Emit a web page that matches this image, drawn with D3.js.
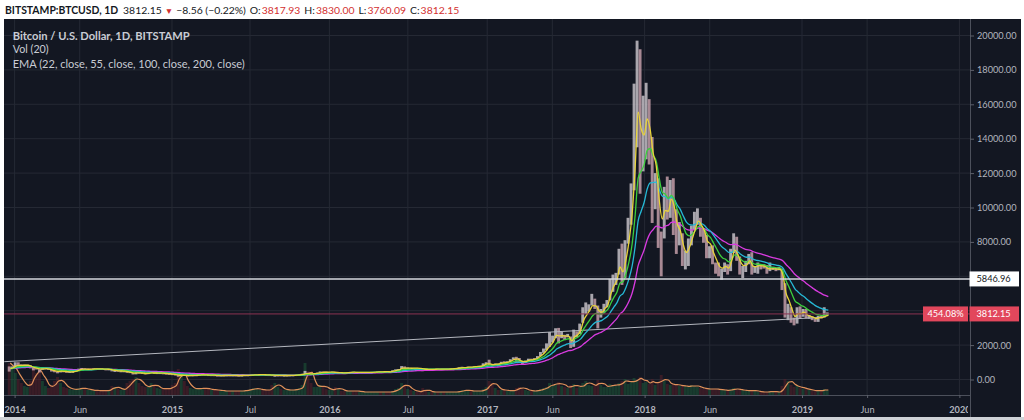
<!DOCTYPE html>
<html><head><meta charset="utf-8">
<script src="https://cdn.jsdelivr.net/npm/d3@7"></script>
<style>
html,body{margin:0;padding:0;background:#fff;}
svg{display:block;font-family:Lato,"Open Sans",sans-serif;}
</style></head><body>
<svg id="c" width="1024" height="420"></svg>
<script>
// ---------- DATA (weekly) ----------
const weekStart = "2013-12-16";
const firstOpen = 700;
const closes = [
// 2013
640,730,910,
// 2014
860,830,830,830, 680,620,600,560, 630,640,580,490,450, 430,500,460,440, 440,450,530,630, 650,595,595,600,635, 630,620,595,585, 585,500,510,480, 480,480,410,375,330, 400,390,355,325, 375,400,375,375, 375,350,330,320,275,
// 2015
270,200,250,230, 220,235,245,255, 275,285,260,250,255, 235,225,225,235, 240,237,240,230, 225,235,245,250,260, 280,280,290,280, 265,260,230,230,240, 230,230,235,240, 245,265,285,325, 385,335,320,360,390, 450,440,420,430,
// 2016
445,380,400,380, 375,405,440,435,400, 410,410,415,420, 420,430,455,450, 460,455,440,530,575, 610,760,660,660, 650,665,660,625, 590,570,585,575,610, 605,610,600,610, 615,640,655,700,705, 705,740,735,765, 775,785,890,1000,
// 2017
900,820,920,915,1020, 1000,1050,1160,1270, 1230,1000,960,1080, 1200,1170,1230,1350, 1560,1720,2050,2200,2500, 2950,2500,2550,2500, 2520,1930,2750,2740,3200, 4100,4100,4340,4580, 4270,3700,3800,4380, 4600,5700,5950,6150,7400, 5950,7800,9300,11300, 15300,19200,13500,13800,
// 2018
16200,13800,11600,11600,8200, 8100,10400,9700,11300, 9500,7900,8200,6900, 6900,8000,8800,9400,9700, 8700,8250,7350,7700, 6800,6500,6150,6350, 6700,6350,7400,8200,7000, 6300,6400,6700,7200, 6250,6500,6700,6600, 6550,6300,6400,6450,6400, 6400,5600,3900,4100, 3500,3200,4000,3850,4000,
// 2019
3600,3600,3550,3450,3650,3620,3750,3812.15
];
const highs = [
// 2013
760,760,1000,
// 2014
1000,880,870,860, 830,700,650,600, 690,660,630,590,500, 470,540,510,460, 450,460,530,630, 670,650,620,610,650, 640,630,625,600, 600,590,520,520, 490,490,480,440,390, 400,410,390,365, 380,460,400,385, 385,370,350,335,325,
// 2015
300,280,300,310, 240,265,255,260, 300,300,290,270,265, 260,235,240,245, 245,245,245,240, 230,240,255,255,270, 300,295,295,300, 285,270,265,230,245, 245,235,240,245, 250,270,290,335, 500,400,340,370,400, 470,465,460,440,
// 2016
460,450,420,400, 385,410,445,445,440, 420,420,420,425, 425,435,460,470, 465,465,460,535,590, 610,780,760,700, 680,675,675,660, 620,600,590,590,615, 630,615,610,615, 620,645,660,710,740, 720,750,745,770, 780,795,940,1000,
// 2017
1150,910,930,925,1030, 1060,1060,1180,1290, 1320,1250,1050,1100, 1210,1210,1240,1360, 1600,1800,2100,2760,2550, 2980,3000,2760,2600, 2650,2500,2900,2800,3250, 4200,4480,4370,4980, 4700,4300,4100,4400, 4620,5850,6100,6200,7600, 7900,8100,9400,11400, 17200,19700,19200,16500,
// 2018
17250,16300,14100,12000,11700, 8600,11200,11800,11600, 11700,9900,9150,8500, 7500,8200,8950,9750,9950, 9400,8800,8400,7750, 7800,6800,6800,6450, 6800,6700,7600,8500,8300, 7150,6600,6900,7300, 7400,6600,6800,6700, 6700,6650,6800,6550,6500, 6550,6450,5600,4400, 4200,3600,4200,4250,4100,
// 2019
4100,3750,3650,3550,3700,3700,4200,3900
];
const lows = [
// 2013
460,620,730,
// 2014
780,800,770,770, 650,530,580,410, 560,600,560,460,420, 360,410,420,420, 420,430,440,550, 620,560,560,560,600, 610,610,590,570, 570,470,440,470, 470,470,390,370,290, 300,370,350,320, 320,370,345,360, 360,340,310,310,260,
// 2015
260,160,200,210, 210,215,230,235, 260,270,250,235,240, 220,215,215,220, 230,230,232,225, 220,225,230,240,245, 260,270,270,275, 260,255,200,190,225, 225,225,225,235, 235,245,265,280, 320,300,315,320,360, 390,430,410,410,
// 2016
420,360,365,370, 365,370,400,400,370, 395,405,405,410, 415,420,430,440, 440,445,435,440,520, 570,610,520,610, 600,650,650,620, 480,565,565,565,570, 600,600,590,600, 605,615,630,650,680, 690,700,725,730, 750,765,790,890,
// 2017
840,750,820,880,915, 960,980,1050,1150, 950,980,900,960, 1060,1150,1170,1230, 1350,1550,1700,1900,2150, 2400,2100,2400,2300, 2450,1830,1900,2450,2650, 3300,3800,3950,4300, 4100,2970,3600,3850, 4200,4600,5100,5500,6100, 5500,5900,7900,9000, 11000,13500,10800,12100,
// 2018
12800,12500,9100,9900,7650, 6000,8200,9300,9400, 8400,7300,7800,6600, 6400,6600,7800,8700,9000, 8300,7950,7050,7050, 6700,6150,6000,5800, 6250,6100,6300,7350,6900, 6100,5900,6250,6700, 6100,6200,6150,6400, 6450,6150,6300,6380,6300, 6350,5200,3600,3450, 3300,3150,3250,3550,3650,
// 2019
3550,3530,3450,3350,3350,3550,3600,3730
];
const volumes = [
// 2013
32,26,22,
// 2014
16,12,9,8, 14,28,22,24, 14,9,7,10,14, 18,12,8,7, 6,5,6,7, 7,6,5,5,4, 5,4,4,5, 5,9,8,6, 5,6,12,14,16, 18,12,9,8, 8,12,9,7, 6,6,7,6,10,
// 2015
12,26,20,14, 9,7,6,6, 7,7,6,6,5, 5,5,4,4, 4,4,4,4, 4,4,5,5,6, 7,6,5,5, 5,5,10,12,8, 6,5,5,5, 5,6,7,10, 32,24,12,8,8, 10,8,6,5,
// 2016
5,8,6,4, 4,4,4,4,4, 3,3,3,3, 3,3,3,3, 3,3,3,4,6, 7,12,10,6, 5,4,3,3, 7,4,3,3,3, 3,3,3,3, 3,3,3,4,5, 5,4,4,4, 4,4,6,8,
// 2017
14,12,7,5,5, 5,4,4,5, 7,8,6,5, 4,4,4,5, 6,7,8,12,10, 11,13,9,8, 7,10,11,7,8, 12,14,10,9, 10,15,10,8, 8,11,10,9,12, 14,16,11,13, 17,15,18,12,
// 2018
13,11,16,10,12, 20,14,11,10, 11,10,9,9, 9,8,10,9,8, 7,6,6,6, 6,6,5,5, 5,4,6,7,5, 5,5,4,4, 5,4,3,3, 3,3,4,3,3, 3,9,16,14, 10,8,9,7,6,
// 2019
6,5,4,4,5,4,6,5
];
const emaPeriods = [200, 100, 55, 22];
const emaColors = ["#d93be0", "#26b9d6", "#3ccf3c", "#e8d33a"];
const volPeriodWeeks = 3; // Vol(20) daily ~ 3 weeks

const gridTicks = [0,2000,4000,6000,8000,10000,12000,14000,16000,18000,20000];
const priceTickLabels = [0,2000,8000,10000,12000,14000,16000,18000,20000]; // 4000/6000 hidden behind the tags
const timeTickDates = ["2014-01-01","2014-06-01","2015-01-01","2015-07-01","2016-01-01","2016-07-01","2017-01-01","2017-06-01","2018-01-01","2018-06-01","2019-01-01","2019-06-01","2020-01-01"];
const timeTickLabels = ["2014","Jun","2015","Jul","2016","Jul","2017","Jun","2018","Jun","2019","Jun","2020"];

const trendDates = ["2013-12-08","2019-02-18"];
const trendValues = [1035, 3616];
const levelLine = 5846.96;
const lastClose = 3812.15;
const pctLabel = "454.08%";

const headerTitle = "BITSTAMP:BTCUSD, 1D";
const headerLast = "3812.15";
const headerArrow = "▼";
const headerChange = "−8.56 (−0.22%)";
const ohlcLabels = ["O:","H:","L:","C:"];
const ohlcValues = ["3817.93","3830.00","3760.09","3812.15"];
const legendTexts = ["Bitcoin / U.S. Dollar, 1D, BITSTAMP","Vol (20)","EMA (22, close, 55, close, 100, close, 200, close)"];

// ---------- CHART ----------
const parse = d3.utcParse("%Y-%m-%d");
const t0 = parse(weekStart);
const weeks = closes.map((c,i)=>({
  date: d3.utcDay.offset(t0, 7*i),
  open: i===0 ? firstOpen : closes[i-1],
  close: c, high: highs[i], low: lows[i], vol: volumes[i]
}));

const L=4, R=970, T=19, B=395;
const x = d3.scaleUtc().domain([parse("2014-01-01"), parse("2020-01-01")]).range([14.6, 959.4]);
const y = d3.scaleLinear().domain([0,20000]).range([379.5, 35.5]);
const yv = d3.scaleLinear().domain([0,30]).range([B, B-30]);

const svg = d3.select("#c");
svg.append("rect").attr("width",1024).attr("height",420).attr("fill","#ffffff");
svg.append("rect").attr("x",L).attr("y",T).attr("width",1021-L).attr("height",417-T).attr("fill","#131722");
svg.append("rect").attr("x",0).attr("y",417).attr("width",1024).attr("height",3).attr("fill","#cfd2d7");

const defs = svg.append("defs");
defs.append("clipPath").attr("id","plot").append("rect").attr("x",L).attr("y",T).attr("width",R-L).attr("height",B-T);
defs.append("clipPath").attr("id","tax").append("rect").attr("x",L).attr("y",-2).attr("width",R-L-2).attr("height",25);

// grid
const grid = svg.append("g").attr("clip-path","url(#plot)");
grid.selectAll(".hg").data(gridTicks).join("line")
  .attr("x1",L).attr("x2",R).attr("y1",d=>y(d)).attr("y2",d=>y(d))
  .attr("stroke","#252934").attr("stroke-width",1);
grid.selectAll(".vg").data(timeTickDates).join("line")
  .attr("x1",d=>x(parse(d))).attr("x2",d=>x(parse(d))).attr("y1",T).attr("y2",B)
  .attr("stroke","#252934").attr("stroke-width",1);

const plot = svg.append("g").attr("clip-path","url(#plot)");
const mid = d => d3.utcHour.offset(d, 84);
const endw = d => d3.utcHour.offset(d, 144);
const bw = 2.9;

// volume bars
plot.append("g").selectAll("rect").data(weeks).join("rect")
  .attr("x", d=>x(mid(d.date))-bw/2).attr("width", bw)
  .attr("y", d=>yv(d.vol)).attr("height", d=>B-yv(d.vol))
  .attr("fill", d=> d.close>=d.open ? "#1d5a38" : "#5a2129").attr("opacity",0.55);

// volume MA
const volMA = weeks.map((d,i)=>{
  const s = weeks.slice(Math.max(0,i-volPeriodWeeks+1), i+1);
  return {date:d.date, v:d3.mean(s, e=>e.vol)};
});
plot.append("path").datum(volMA)
  .attr("d", d3.line().x(d=>x(endw(d.date))).y(d=>yv(d.v)).curve(d3.curveMonotoneX))
  .attr("fill","none").attr("stroke","#e0915a").attr("stroke-width",1.2);

// candles (weekly high-low range)
plot.append("g").selectAll("rect").data(weeks).join("rect")
  .attr("x", d=>x(mid(d.date))-bw/2).attr("width", bw)
  .attr("y", d=>y(d.high)).attr("height", d=>Math.max(1.2, y(d.low)-y(d.high)))
  .attr("fill", d=> d.close>=d.open ? "#c4c0c6" : "#c39ea8").attr("opacity",0.85);

// trend line
plot.append("line")
  .attr("x1", x(parse(trendDates[0]))).attr("y1", y(trendValues[0]))
  .attr("x2", x(parse(trendDates[1]))).attr("y2", y(trendValues[1]))
  .attr("stroke","#b4b7bf").attr("stroke-width",1);

// EMAs
emaPeriods.forEach((p,k)=>{
  const a = 1 - Math.pow(1 - 2/(p+1), 7);
  let e = closes[0];
  const pts = weeks.map((d,i)=>{ if(i>0) e = a*d.close + (1-a)*e; return {date:d.date, v:e}; });
  plot.append("path").datum(pts)
    .attr("d", d3.line().x(d=>x(endw(d.date))).y(d=>y(d.v)).curve(d3.curveMonotoneX))
    .attr("fill","none").attr("stroke",emaColors[k]).attr("stroke-width",1.3);
});

// horizontal lines
plot.append("line").attr("x1",L).attr("x2",R).attr("y1",y(lastClose)).attr("y2",y(lastClose))
  .attr("stroke","#8c3352").attr("stroke-width",1);
plot.append("line").attr("x1",L).attr("x2",R).attr("y1",y(levelLine)).attr("y2",y(levelLine))
  .attr("stroke","#d6d8de").attr("stroke-width",1.6);

// pane borders
svg.append("line").attr("x1",L).attr("x2",R).attr("y1",B+0.5).attr("y2",B+0.5).attr("stroke","#4c505b");
svg.append("line").attr("x1",R+0.5).attr("x2",R+0.5).attr("y1",T).attr("y2",417).attr("stroke","#4c505b");

// price axis
const ya = d3.axisRight(y).tickValues(priceTickLabels).tickFormat(d3.format(".2f")).tickSize(4).tickPadding(3);
svg.append("g").attr("transform",`translate(${R},0)`).call(ya)
  .call(g=>g.select(".domain").remove())
  .call(g=>g.selectAll("line").attr("stroke","#5d606b"))
  .call(g=>g.selectAll("text").attr("fill","#b2b5be").attr("font-size",9.2).attr("font-family","Lato"));

// time axis
const xa = d3.axisBottom(x).tickValues(timeTickDates.map(parse))
  .tickFormat((d,i)=>timeTickLabels[i]).tickSize(3).tickPadding(8);
svg.append("g").attr("transform",`translate(0,${B})`).attr("clip-path","url(#tax)").call(xa)
  .call(g=>g.select(".domain").remove())
  .call(g=>g.selectAll("line").attr("stroke","#5d606b"))
  .call(g=>g.selectAll("text").attr("fill","#b2b5be").attr("font-size",9.2).attr("font-family","Lato")
      .attr("font-weight",(d,i)=>/^\d/.test(timeTickLabels[i])?"bold":"normal"));

// price labels
function tag(x0, w, v, fill, txt, color, anchor){
  const yc = y(v);
  svg.append("rect").attr("x",x0).attr("y",yc-7.5).attr("width",w).attr("height",15).attr("fill",fill);
  svg.append("text").attr("x", anchor==="middle"? x0+w/2 : x0+7).attr("y",yc+3.3)
    .attr("text-anchor",anchor).attr("font-size",9.2).attr("fill",color).text(txt);
}
tag(R-0.5, 49.5, levelLine, "#ffffff", d3.format(".2f")(levelLine), "#131722", "start");
tag(R-0.5, 49.5, lastClose, "#e2475c", d3.format(".2f")(lastClose), "#ffffff", "start");
tag(923, 45, lastClose, "#e2475c", pctLabel, "#ffffff", "middle");

// header: one text element, natural flow
const dark = "#131722", red = "#d32f2f";
const head = svg.append("text").attr("x",5).attr("y",13.5).attr("font-size",10.4).attr("fill",dark);
head.append("tspan").attr("font-weight","bold").text(headerTitle);
head.append("tspan").attr("dx",5).text(headerLast);
head.append("tspan").attr("dx",3).attr("fill",red).attr("font-size",8.5).text(headerArrow);
head.append("tspan").attr("dx",3).text(headerChange);
ohlcLabels.forEach((lab,i)=>{
  head.append("tspan").attr("dx",4).text(lab);
  head.append("tspan").attr("dx",1).attr("fill",red).text(ohlcValues[i]);
});

// legend
const ly = [39.5, 53.3, 68], lw = [177, 36, 232];
svg.append("g").selectAll("text").data(legendTexts).join("text")
  .attr("x",12.7).attr("y",(d,i)=>ly[i]).attr("font-size",11)
  .attr("font-weight",(d,i)=>i===0?"bold":"normal")
  .attr("fill","#c9ccd4")
  .attr("textLength",(d,i)=>lw[i]).attr("lengthAdjust","spacingAndGlyphs")
  .text(d=>d);
</script></body></html>
